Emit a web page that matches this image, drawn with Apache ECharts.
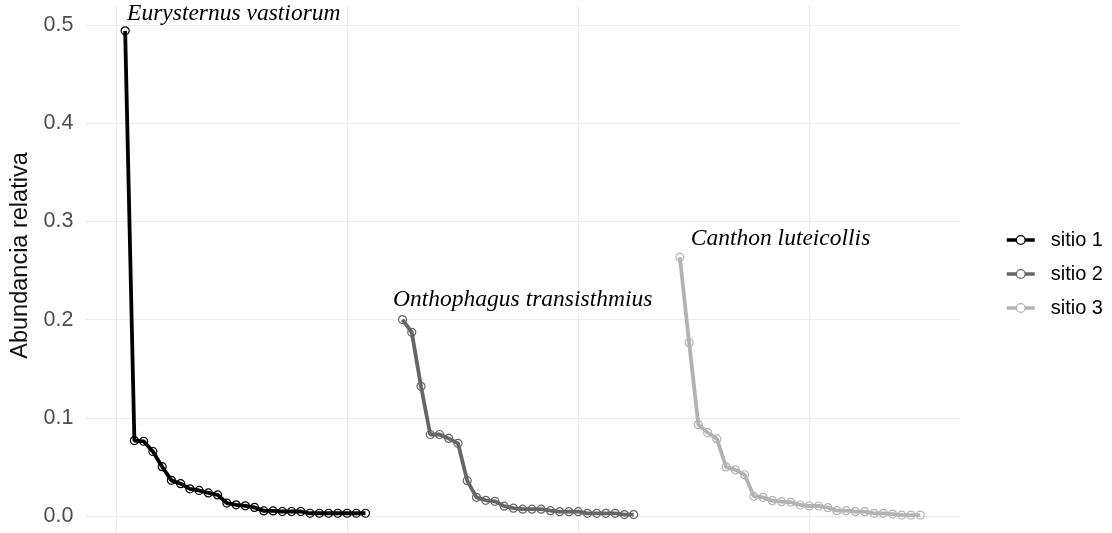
<!DOCTYPE html>
<html><head><meta charset="utf-8">
<script src="https://cdn.jsdelivr.net/npm/echarts@6/dist/echarts.min.js"></script>
<style>html,body{margin:0;padding:0;background:#fff}#c{width:1112px;height:533px}</style>
</head><body><div id="c"></div>
<script>
// ---- data ----
const siteNames = ['sitio 1', 'sitio 2', 'sitio 3'];
const speciesLabels = ['Eurysternus vastiorum', 'Onthophagus transisthmius', 'Canthon luteicollis'];
const rankOffsets = [0, 30, 60];
const sitio1 = [0.494, 0.0768, 0.0761, 0.0657, 0.0502, 0.0363, 0.0329, 0.0277, 0.026, 0.0235, 0.0215,
  0.0132, 0.0114, 0.0104, 0.0087, 0.0052, 0.0052, 0.0046, 0.0046, 0.0046,
  0.0028, 0.0028, 0.0028, 0.0028, 0.0028, 0.0028, 0.0028];
const sitio2 = [0.200, 0.187, 0.132, 0.083, 0.083, 0.079, 0.074, 0.036, 0.019, 0.016, 0.015, 0.010,
  0.008, 0.007, 0.007, 0.007, 0.0054, 0.0044, 0.0044, 0.0044, 0.0027, 0.0027, 0.0027, 0.0027, 0.0015, 0.0015];
const sitio3 = [0.2635, 0.1765, 0.093, 0.085, 0.0785, 0.050, 0.047, 0.042, 0.020, 0.019, 0.0156, 0.0146,
  0.014, 0.0112, 0.0102, 0.0102, 0.0085, 0.0054, 0.0054, 0.0044, 0.0044, 0.0027, 0.0027, 0.002, 0.001, 0.001, 0.001];
const yTicks = [0, 0.1, 0.2, 0.3, 0.4, 0.5];
const xGrid = [0, 25, 50, 75];

// ---- styles ----
const colors = ['#000000', '#666666', '#b3b3b3'];
const labelPos = [[6.5, -12], [-4.8, -15.5], [15.5, -13.7]];
const siteValues = [sitio1, sitio2, sitio3];

const series = siteValues.map((vals, s) => ({
  name: siteNames[s],
  type: 'line',
  symbol: 'circle',
  symbolSize: 8,
  showSymbol: true,
  lineStyle: { color: colors[s], width: 3.8 },
  itemStyle: { color: 'rgba(255,255,255,0)', borderColor: colors[s], borderWidth: 1.2 },
  emphasis: { disabled: true },
  z: 2 + s,
  data: vals.map((v, i) => {
    const item = { value: [rankOffsets[s] + i + 1, v] };
    if (i === 0) {
      item.label = {
        show: true,
        formatter: speciesLabels[s],
        position: labelPos[s],
        align: 'left',
        verticalAlign: 'middle',
        fontFamily: 'Liberation Serif',
        fontStyle: 'italic',
        fontSize: 23.5,
        color: '#000'
      };
    }
    return item;
  })
}));

const chart = echarts.init(document.getElementById('c'), null, { renderer: 'canvas' });
chart.setOption({
  animation: false,
  backgroundColor: '#ffffff',
  grid: { left: 85.4, right: 152, top: 6, bottom: 0, containLabel: false },
  xAxis: {
    type: 'value', min: -3.3, max: 91.3,
    axisLine: { show: false },
    axisTick: { show: false, customValues: xGrid },
    axisLabel: { show: false },
    splitLine: { show: true, lineStyle: { color: '#ebebeb', width: 1.1 } }
  },
  yAxis: {
    type: 'value', min: -0.0173, max: 0.5193,
    name: 'Abundancia relativa',
    nameLocation: 'middle',
    nameGap: 47,
    nameTextStyle: { fontFamily: 'Liberation Sans', fontSize: 23.5, color: '#111', padding: [0, 0, 0, 28] },
    axisLine: { show: false },
    axisTick: { show: false, customValues: yTicks },
    axisLabel: {
      customValues: yTicks, margin: 12,
      formatter: v => v.toFixed(1),
      fontFamily: 'Liberation Sans', fontSize: 21.5, color: '#4d4d4d'
    },
    splitLine: { show: true, lineStyle: { color: '#ebebeb', width: 1.1 } }
  },
  legend: {
    orient: 'vertical',
    left: 1005, top: 230,
    padding: 0,
    itemWidth: 28, itemHeight: 11, itemGap: 14,
    data: siteNames,
    lineStyle: { width: 3.5 },
    itemStyle: { color: '#ffffff', borderWidth: 1.3 },
    textStyle: { fontFamily: 'Liberation Sans', fontSize: 20, color: '#000', lineHeight: 20, padding: [0, 0, 0, 11] }
  },
  series
});
</script></body></html>
